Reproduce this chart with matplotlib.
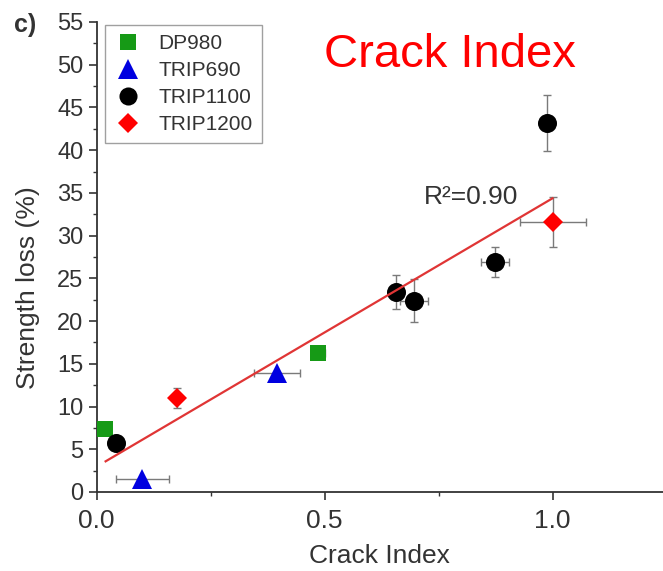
import numpy as np
import matplotlib
matplotlib.use("Agg")
import matplotlib.pyplot as plt
from matplotlib.lines import Line2D

plt.rcParams['font.family'] = ['Liberation Sans', 'DejaVu Sans']

# ---- data ----
dp980_x = [0.019, 0.486]
dp980_y = [7.4, 16.3]
dp980_xerr = [0.0, 0.015]
dp980_yerr = [0.0, 0.6]

trip690_x = [0.10, 0.396]
trip690_y = [1.5, 13.9]
trip690_xerr = [0.058, 0.05]
trip690_yerr = [0.0, 0.0]

trip1100_x = [0.043, 0.657, 0.696, 0.874, 0.988]
trip1100_y = [5.7, 23.4, 22.4, 26.9, 43.2]
trip1100_xerr = [0.0, 0.015, 0.03, 0.03, 0.0]
trip1100_yerr = [0.6, 2.0, 2.5, 1.75, 3.3]

trip1200_x = [0.176, 1.001]
trip1200_y = [11.0, 31.6]
trip1200_xerr = [0.0, 0.072]
trip1200_yerr = [1.2, 2.9]

series_names = ["DP980", "TRIP690", "TRIP1100", "TRIP1200"]
r2_label = "R²=0.90"
x_ticks = [0.0, 0.5, 1.0]
y_ticks = list(range(0, 60, 5))

fig = plt.figure(figsize=(6.63, 5.71), dpi=100)
ax = fig.add_axes([96.5/663, 1-492/571, 1-96.5/663, (492-22)/571])

series = [
    (dp980_x, dp980_y, dp980_xerr, dp980_yerr, 's', '#169a16', 11.5),
    (trip690_x, trip690_y, trip690_xerr, trip690_yerr, '^', '#0000e0', 14.5),
    (trip1100_x, trip1100_y, trip1100_xerr, trip1100_yerr, 'o', '#000000', 13.7),
    (trip1200_x, trip1200_y, trip1200_xerr, trip1200_yerr, 'D', '#ff0000', 10.5),
]

handles = []
for (x, y, xe, ye, m, c, ms), name in zip(series, series_names):
    ax.errorbar(x, y, xerr=xe, yerr=ye, fmt='none', ecolor='#7a7a7a',
                elinewidth=1.0, capsize=3, capthick=1.0, zorder=2)
    ax.plot(x, y, linestyle='none', marker=m, color=c, markersize=ms,
            markeredgewidth=0, zorder=3)
    handles.append(Line2D([], [], linestyle='none', marker=m, color=c,
                          markersize=ms*0.95, markeredgewidth=0, label=name))

# linear fit
all_x = np.array(dp980_x + trip690_x + trip1100_x + trip1200_x)
all_y = np.array(dp980_y + trip690_y + trip1100_y + trip1200_y)
slope, intercept = np.polyfit(all_x, all_y, 1)
fx = np.array([0.02, 1.0])
ax.plot(fx, slope*fx + intercept, color='#e03535', lw=1.6, zorder=4)

ax.text(0.925, 34.5, r2_label, fontsize=19, color='#333333', ha='right', va='center')

ax.set_xlim(0, (663-96.5)/456)
ax.set_ylim(0, 55)
ax.set_xticks(x_ticks)
ax.set_xticklabels([f"{v:.1f}" for v in x_ticks])
ax.set_xticks([0.25, 0.75], minor=True)
ax.set_yticks(y_ticks)
ax.set_yticks(np.arange(2.5, 55, 5), minor=True)
ax.tick_params(axis='both', which='major', direction='out', length=6, width=1.2,
               colors='#333333', labelsize=17, labelcolor='#333333')
ax.tick_params(axis='both', which='minor', direction='out', length=3, width=1.0,
               colors='#333333')
ax.tick_params(axis='x', labelsize=19, pad=6)
for s in ['top', 'right']:
    ax.spines[s].set_visible(False)
for s in ['left', 'bottom']:
    ax.spines[s].set_linewidth(1.3)
    ax.spines[s].set_color('#333333')

ax.set_xlabel("Crack Index", fontsize=19, color='#333333', labelpad=8)
ax.set_ylabel("Strength loss (%)", fontsize=19, color='#333333')
ax.yaxis.set_label_coords(-0.10, (492-288)/470)

leg = ax.legend(handles=handles, loc='upper left', bbox_to_anchor=(0.015, 0.994),
                borderaxespad=0, fontsize=15, frameon=True, fancybox=False,
                edgecolor='#888888', labelspacing=0.38, handletextpad=0.8,
                borderpad=0.45, handlelength=1.3, labelcolor='#333333')
leg.get_frame().set_linewidth(1.0)

fig.text(450/663, 1-55/571, "Crack Index", color='red', fontsize=34,
         ha='center', va='center')
fig.text(14/663, 1-25/571, "c)", fontsize=18, fontweight='bold', color='#333333',
         ha='left', va='center')

fig.savefig("out.png", dpi=100)
